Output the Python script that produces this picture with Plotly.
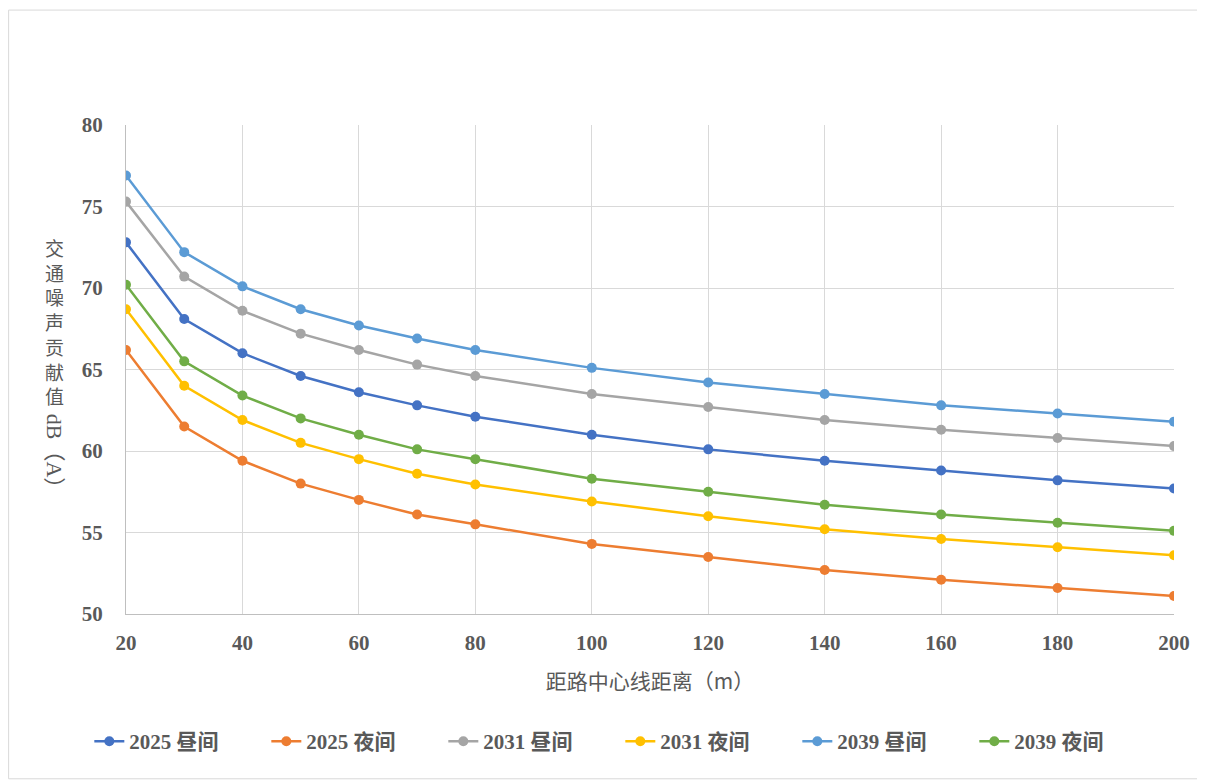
import plotly.graph_objects as go

distance = [20, 30, 40, 50, 60, 70, 80, 100, 120, 140, 160, 180, 200]

day_2025 = [72.8, 68.1, 66.0, 64.6, 63.6, 62.8, 62.1, 61.0, 60.1, 59.4, 58.8, 58.2, 57.7]
night_2025 = [66.2, 61.5, 59.4, 58.0, 57.0, 56.1, 55.5, 54.3, 53.5, 52.7, 52.1, 51.6, 51.1]
day_2031 = [75.3, 70.7, 68.6, 67.2, 66.2, 65.3, 64.6, 63.5, 62.7, 61.9, 61.3, 60.8, 60.3]
night_2031 = [68.7, 64.0, 61.9, 60.5, 59.5, 58.6, 57.95, 56.9, 56.0, 55.2, 54.6, 54.1, 53.6]
day_2039 = [76.9, 72.2, 70.1, 68.7, 67.7, 66.9, 66.2, 65.1, 64.2, 63.5, 62.8, 62.3, 61.8]
night_2039 = [70.2, 65.5, 63.4, 62.0, 61.0, 60.1, 59.5, 58.3, 57.5, 56.7, 56.1, 55.6, 55.1]

series = [
    ("2025 昼间", day_2025, "#4472C4"),
    ("2025 夜间", night_2025, "#ED7D31"),
    ("2031 昼间", day_2031, "#A5A5A5"),
    ("2031 夜间", night_2031, "#FFC000"),
    ("2039 昼间", day_2039, "#5B9BD5"),
    ("2039 夜间", night_2039, "#70AD47"),
]

FONT = "Liberation Serif, Noto Sans CJK SC, serif"
CJK = "Noto Sans CJK SC, sans-serif"
GREY = "#595959"

fig = go.Figure()
for name, vals, color in series:
    fig.add_trace(
        go.Scatter(
            x=distance,
            y=vals,
            name=name,
            mode="lines+markers",
            line=dict(color=color, width=2.5),
            marker=dict(color=color, size=10),
        )
    )

axis_style = dict(
    showgrid=True,
    gridcolor="#D9D9D9",
    gridwidth=1,
    showline=True,
    linecolor="#BFBFBF",
    linewidth=1,
    zeroline=False,
    ticks="",
    tickfont=dict(family=FONT, size=21, color=GREY, weight="bold"),
)

fig.update_xaxes(range=[20, 200], tick0=20, dtick=20, ticklabelstandoff=10,
                 title=dict(text="距路中心线距离（m）", font=dict(family=CJK, size=21, color=GREY), standoff=20),
                 **axis_style)
fig.update_yaxes(range=[50, 80], dtick=5, ticklabelstandoff=18, **axis_style)

# vertical y title: stacked characters plus rotated unit
fig.add_annotation(
    text="<br>".join("交通噪声贡献值"), xref="paper", yref="paper",
    x=-0.068, y=0.782, xanchor="center", yanchor="top", showarrow=False,
    font=dict(family=CJK, size=19, color=GREY), align="center",
)
fig.add_annotation(
    text="dB（A）", xref="paper", yref="paper", textangle=90,
    x=-0.068, y=0.322, xanchor="center", yanchor="middle", showarrow=False,
    font=dict(family=FONT, size=22, color=GREY),
)

# chart area border
fig.add_shape(type="rect", xref="paper", yref="paper",
              x0=-0.112, x1=1.028, y0=-0.337, y1=1.235,
              line=dict(color="#D9D9D9", width=1), fillcolor="rgba(0,0,0,0)", layer="below")

fig.update_layout(
    width=1197,
    height=774,
    paper_bgcolor="white",
    plot_bgcolor="white",
    margin=dict(l=118, r=31, t=117, b=168),
    legend=dict(
        orientation="h",
        x=-0.035, xanchor="left",
        y=-0.261, yanchor="middle",
        entrywidth=132, entrywidthmode="pixels",
        font=dict(family=FONT, size=21, color=GREY, weight="bold"),
        itemwidth=30,
    ),
    showlegend=True,
)

fig.write_html("out.html")
